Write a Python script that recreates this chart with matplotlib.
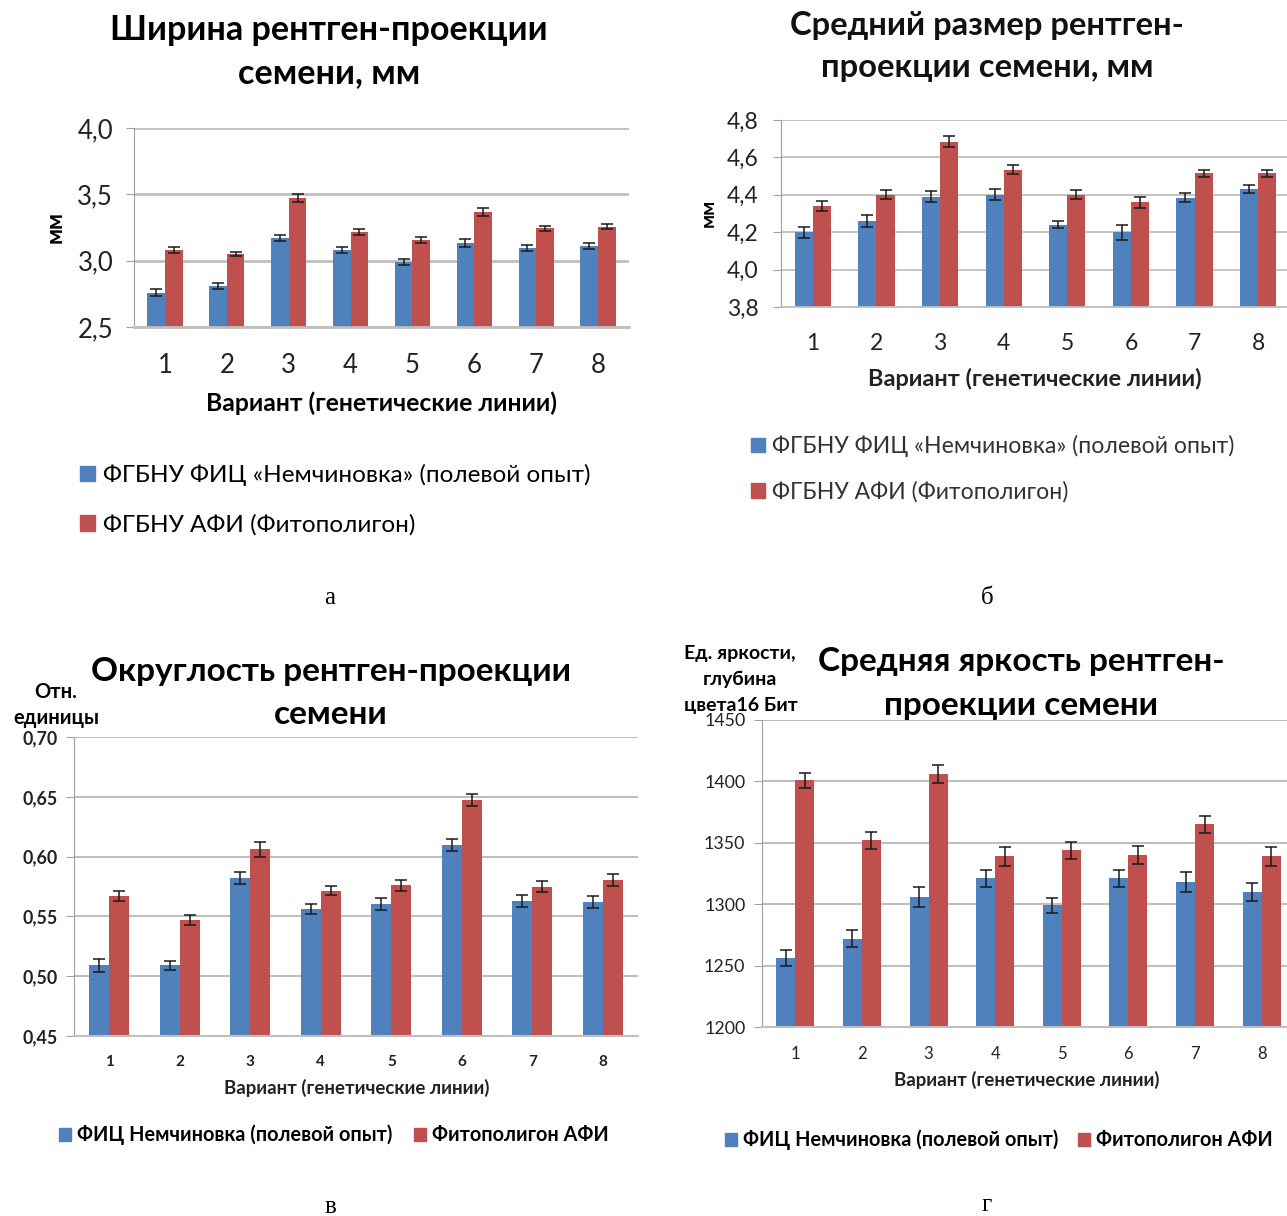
import matplotlib
matplotlib.use("Agg")
import matplotlib.pyplot as plt
import numpy as np
from matplotlib.patches import Patch

plt.rcParams['font.family'] = ['Lato', 'Open Sans', 'DejaVu Sans']

W, H = 1287, 1216
BLUE = '#4F81BD'
RED = '#C0504D'
GRID = '#BFBFBF'

variants = ['1', '2', '3', '4', '5', '6', '7', '8']

# а — ширина рентген-проекции семени, мм
width_field = [2.76, 2.81, 3.17, 3.08, 2.99, 3.135, 3.095, 3.11]
width_field_err = [0.025, 0.02, 0.025, 0.025, 0.02, 0.03, 0.025, 0.02]
width_phyto = [3.08, 3.05, 3.47, 3.215, 3.155, 3.37, 3.245, 3.255]
width_phyto_err = [0.025, 0.015, 0.03, 0.02, 0.025, 0.03, 0.02, 0.02]

# б — средний размер рентген-проекции семени, мм
size_field = [4.20, 4.26, 4.39, 4.40, 4.24, 4.20, 4.385, 4.43]
size_field_err = [0.03, 0.03, 0.03, 0.03, 0.02, 0.04, 0.025, 0.02]
size_phyto = [4.34, 4.40, 4.685, 4.535, 4.40, 4.36, 4.515, 4.515]
size_phyto_err = [0.025, 0.025, 0.03, 0.025, 0.025, 0.03, 0.02, 0.02]

# в — округлость рентген-проекции семени, отн. единицы
round_field = [0.509, 0.509, 0.582, 0.556, 0.560, 0.610, 0.563, 0.562]
round_field_err = [0.0055, 0.004, 0.005, 0.004, 0.005, 0.005, 0.005, 0.005]
round_phyto = [0.567, 0.547, 0.606, 0.5715, 0.576, 0.6475, 0.575, 0.5805]
round_phyto_err = [0.004, 0.004, 0.006, 0.004, 0.0045, 0.005, 0.0045, 0.005]

# г — средняя яркость рентген-проекции семени
bright_field = [1256, 1272, 1306, 1321, 1299, 1321, 1318, 1310]
bright_field_err = [6.5, 7, 8, 7, 6, 7, 8, 7.5]
bright_phyto = [1401, 1352, 1406, 1339, 1344, 1340, 1365, 1339]
bright_phyto_err = [6, 7, 7, 7.5, 7, 7, 7, 7.5]

fig = plt.figure(figsize=(W / 100, H / 100), dpi=100)


def fx(px):
    return px / W


def fy(py):
    return 1 - py / H


def make_axes(left, right, top, bottom):
    return fig.add_axes([fx(left), fy(bottom), (right - left) / W, (bottom - top) / H])


def bar_panel(ax, field, field_err, phyto, phyto_err, ylim, yticks, fmt,
              tick_size, tick_weight, xtick_size, xtick_weight, gridlw):
    x = np.arange(len(variants))
    bw = 1 / 3.5
    ax.bar(x - bw / 2, field, bw, color=BLUE, zorder=2)
    ax.bar(x + bw / 2, phyto, bw, color=RED, zorder=2)
    ax.errorbar(x - bw / 2, field, yerr=field_err, fmt='none', ecolor='#1a1a1a',
                elinewidth=1.1, capsize=4, capthick=1.1, zorder=3)
    ax.errorbar(x + bw / 2, phyto, yerr=phyto_err, fmt='none', ecolor='#1a1a1a',
                elinewidth=1.1, capsize=4, capthick=1.1, zorder=3)
    ax.set_xlim(-0.5, len(variants) - 0.5)
    ax.set_ylim(*ylim)
    ax.set_yticks(yticks)
    ax.set_yticklabels([fmt(v) for v in yticks], fontsize=tick_size,
                       fontweight=tick_weight, color='#222222')
    ax.set_xticks(x)
    ax.set_xticklabels(variants, fontsize=xtick_size, fontweight=xtick_weight,
                       color='#222222')
    ax.yaxis.grid(True, color=GRID, lw=gridlw, zorder=0)
    ax.set_axisbelow(True)
    for s in ['top', 'right']:
        ax.spines[s].set_visible(False)
    ax.spines['left'].set_color('#A0A0A0')
    ax.spines['bottom'].set_color(GRID)
    ax.spines['bottom'].set_linewidth(gridlw)
    ax.tick_params(axis='y', length=6, color='#A0A0A0', pad=4)
    ax.tick_params(axis='x', length=0, pad=12)


def comma(d):
    return lambda v: (f"{v:.{d}f}").replace('.', ',')


# ---------- а ----------
ax_a = make_axes(134, 629, 128, 327)
bar_panel(ax_a, width_field, width_field_err, width_phyto, width_phyto_err,
          (2.5, 4.0), [2.5, 3.0, 3.5, 4.0], comma(1), 18.5, 'normal', 18.5, 'normal', 2)
ax_a.tick_params(axis='x', pad=19)
ax_a.tick_params(axis='y', pad=9)
fig.text(fx(329), fy(30), 'Ширина рентген-проекции', ha='center', va='center',
         fontsize=24.6, fontweight='bold')
fig.text(fx(329), fy(73), 'семени, мм', ha='center', va='center',
         fontsize=24.6, fontweight='bold')
fig.text(fx(55), fy(227), 'мм', ha='center', va='center', rotation=90,
         fontsize=16, fontweight='bold')
fig.text(fx(381), fy(403), 'Вариант (генетические линии)', ha='center', va='center',
         fontsize=17.8, fontweight='bold')
fig.legend([Patch(color=BLUE), Patch(color=RED)],
           ['ФГБНУ ФИЦ «Немчиновка» (полевой опыт)', 'ФГБНУ АФИ (Фитополигон)'],
           loc='upper left', bbox_to_anchor=(fx(80), fy(464)), frameon=False,
           fontsize=17.5, handlelength=0.6, handleheight=0.6, handletextpad=0.35,
           labelspacing=1.15, borderaxespad=0, borderpad=0)
fig.text(fx(330), fy(598), 'а', ha='center', va='center', fontsize=18,
         family='Liberation Serif')

# ---------- б ----------
ax_b = make_axes(781, 1290, 120, 307)
bar_panel(ax_b, size_field, size_field_err, size_phyto, size_phyto_err,
          (3.8, 4.8), [3.8, 4.0, 4.2, 4.4, 4.6, 4.8], comma(1), 16.5, 'normal', 16.5, 'normal', 1.3)
ax_b.tick_params(axis='x', pad=19)
ax_b.tick_params(axis='y', pad=10)
fig.text(fx(987), fy(26), 'Средний размер рентген-', ha='center', va='center',
         fontsize=23.6, fontweight='bold', color='#111111')
fig.text(fx(987), fy(68), 'проекции семени, мм', ha='center', va='center',
         fontsize=23.6, fontweight='bold', color='#111111')
fig.text(fx(708), fy(213), 'мм', ha='center', va='center', rotation=90,
         fontsize=14, fontweight='bold')
fig.text(fx(1035), fy(379), 'Вариант (генетические линии)', ha='center', va='center',
         fontsize=16.9, fontweight='bold', color='#222222')
fig.legend([Patch(color=BLUE), Patch(color=RED)],
           ['ФГБНУ ФИЦ «Немчиновка» (полевой опыт)', 'ФГБНУ АФИ (Фитополигон)'],
           loc='upper left', bbox_to_anchor=(fx(751), fy(435)), frameon=False,
           fontsize=16.6, handlelength=0.6, handleheight=0.6, handletextpad=0.3,
           labelspacing=1.05, borderaxespad=0, borderpad=0, labelcolor='#333333')
fig.text(fx(987), fy(598), 'б', ha='center', va='center', fontsize=18,
         family='Liberation Serif')

# ---------- в ----------
ax_c = make_axes(74, 638, 737, 1036)
bar_panel(ax_c, round_field, round_field_err, round_phyto, round_phyto_err,
          (0.45, 0.70), [0.45, 0.50, 0.55, 0.60, 0.65, 0.70], comma(2), 12.8, 'bold',
          11, 'bold', 1.5)
ax_c.tick_params(axis='x', pad=14)
ax_c.tick_params(axis='y', pad=6)
fig.text(fx(331), fy(671), 'Округлость рентген-проекции', ha='center', va='center',
         fontsize=24, fontweight='bold')
fig.text(fx(331), fy(714), 'семени', ha='center', va='center',
         fontsize=24, fontweight='bold')
fig.text(fx(56), fy(692), 'Отн.', ha='center', va='center',
         fontsize=14.5, fontweight='bold')
fig.text(fx(56), fy(718), 'единицы', ha='center', va='center',
         fontsize=14.5, fontweight='bold')
fig.text(fx(357), fy(1088), 'Вариант (генетические линии)', ha='center', va='center',
         fontsize=13.4, fontweight='bold', color='#222222')
fig.legend([Patch(color=BLUE), Patch(color=RED)],
           ['ФИЦ Немчиновка (полевой опыт)', 'Фитополигон АФИ'],
           loc='center left', bbox_to_anchor=(fx(59), fy(1135)), frameon=False,
           ncol=2, prop={'weight': 'bold', 'size': 14.3},
           handlelength=0.6, handleheight=0.6, handletextpad=0.3,
           columnspacing=1.1, borderaxespad=0, borderpad=0)
fig.text(fx(330), fy(1207), 'в', ha='center', va='center', fontsize=18,
         family='Liberation Serif')

# ---------- г ----------
ax_d = make_axes(762, 1295, 720, 1027)
bar_panel(ax_d, bright_field, bright_field_err, bright_phyto, bright_phyto_err,
          (1200, 1450), [1200, 1250, 1300, 1350, 1400, 1450], lambda v: f"{v:.0f}",
          12.8, 'normal', 12, 'normal', 1.5)
ax_d.tick_params(axis='x', pad=14)
ax_d.tick_params(axis='y', pad=6)
fig.text(fx(1021), fy(662), 'Средняя яркость рентген-', ha='center', va='center',
         fontsize=24, fontweight='bold')
fig.text(fx(1021), fy(705), 'проекции семени', ha='center', va='center',
         fontsize=24, fontweight='bold')
fig.text(fx(740), fy(653), 'Ед. яркости,', ha='center', va='center',
         fontsize=14, fontweight='bold')
fig.text(fx(740), fy(679), 'глубина', ha='center', va='center',
         fontsize=14, fontweight='bold')
fig.text(fx(741), fy(706), 'цвета16 Бит', ha='center', va='center',
         fontsize=14, fontweight='bold')
fig.text(fx(1027), fy(1080), 'Вариант (генетические линии)', ha='center', va='center',
         fontsize=13.4, fontweight='bold', color='#222222')
fig.legend([Patch(color=BLUE), Patch(color=RED)],
           ['ФИЦ Немчиновка (полевой опыт)', 'Фитополигон АФИ'],
           loc='center left', bbox_to_anchor=(fx(725), fy(1140)), frameon=False,
           ncol=2, prop={'weight': 'bold', 'size': 14.3},
           handlelength=0.6, handleheight=0.6, handletextpad=0.3,
           columnspacing=1.0, borderaxespad=0, borderpad=0)
fig.text(fx(987), fy(1205), 'г', ha='center', va='center', fontsize=18,
         family='Liberation Serif')

fig.savefig('out.png', dpi=100)
